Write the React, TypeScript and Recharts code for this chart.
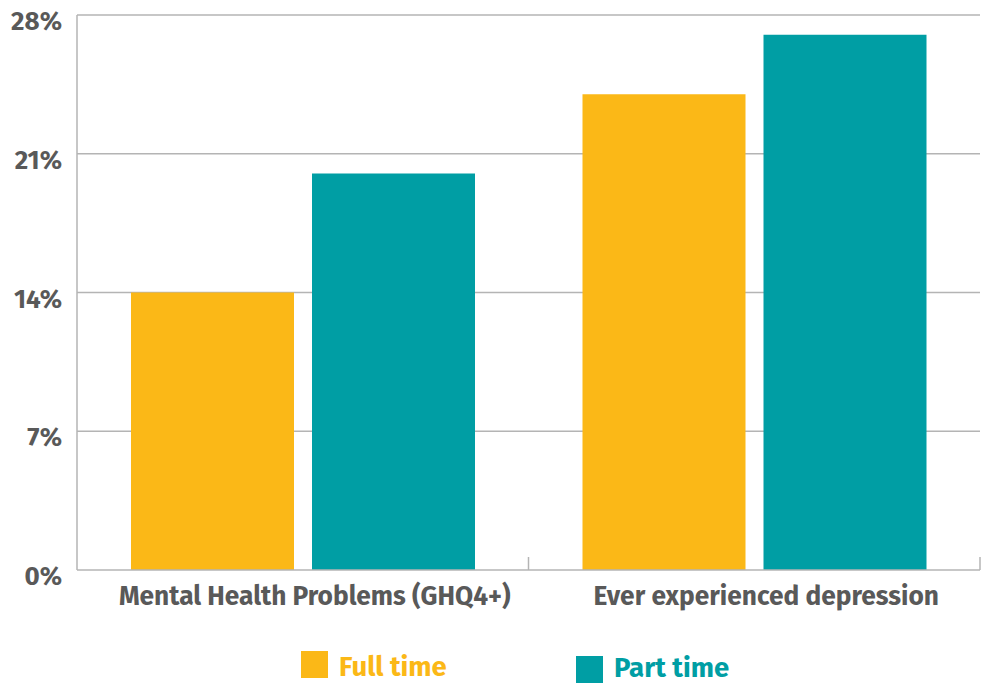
import React from "react";
import { BarChart, Bar, XAxis, YAxis, CartesianGrid } from "recharts";

const categories = ["Mental Health Problems (GHQ4+)", "Ever experienced depression"];
const fullTime = [14, 24];
const partTime = [20, 27];
const yTicks = [0, 7, 14, 21, 28];

const seriesNames = ["Full time", "Part time"];
const seriesColors = ["#FBB817", "#009EA4"];

const data = categories.map((c, i) => ({ name: c, full: fullTime[i], part: partTime[i] }));

const FONT = "'Fira Sans', 'Open Sans', sans-serif";
const GRID = "#B4B4B4";
const TEXT = "#595959";

const XTick = (props: any) => {
  const { x, y, payload } = props;
  const off = payload.offset || 0;
  return (
    <g>
      <line x1={x + off} x2={x + off} y1={y} y2={y - 13} stroke={GRID} strokeWidth={1.5} />
      <text x={x + 12} y={y + 35} textAnchor="middle" fill={TEXT} fontFamily={FONT} fontWeight={700} fontSize={26.3}>
        {payload.value}
      </text>
    </g>
  );
};

const YTick = (props: any) => {
  const { x, y, payload } = props;
  return (
    <text x={x} y={y + 15} textAnchor="end" fill={TEXT} fontFamily={FONT} fontWeight={700} fontSize={26}>
      {payload.value}%
    </text>
  );
};

export default function App() {
  return (
    <div style={{ position: "absolute", left: 0, top: 0, width: 981, height: 683, background: "#fff" }}>
      <BarChart
        width={981}
        height={683}
        data={data}
        margin={{ top: 15, right: 1, left: 0, bottom: 0 }}
        barCategoryGap={54}
        barGap={18}
      >
        <CartesianGrid vertical={false} stroke={GRID} strokeWidth={1.5} horizontalValues={[7, 14, 21, 28]} />
        <XAxis
          dataKey="name"
          height={113}
          tickSize={0}
          tickMargin={0}
          tickLine={false}
          axisLine={{ stroke: GRID, strokeWidth: 1.5 }}
          tick={<XTick />}
          interval={0}
        />
        <YAxis
          width={77}
          domain={[0, 28]}
          ticks={yTicks}
          tickLine={false}
          tickSize={0}
          tickMargin={15}
          axisLine={{ stroke: GRID, strokeWidth: 1.5 }}
          tick={<YTick />}
        />
        <Bar dataKey="full" fill={seriesColors[0]} isAnimationActive={false} />
        <Bar dataKey="part" fill={seriesColors[1]} isAnimationActive={false} />
      </BarChart>
      <svg style={{ position: "absolute", left: 0, top: 0 }} width={981} height={683}>
        <rect x={301} y={651} width={27} height={27} fill={seriesColors[0]} />
        <text x={339} y={676} fill={seriesColors[0]} fontFamily={FONT} fontWeight={700} fontSize={27.5}>
          {seriesNames[0]}
        </text>
        <rect x={576} y={656} width={27} height={27} fill={seriesColors[1]} />
        <text x={614} y={677} fill={seriesColors[1]} fontFamily={FONT} fontWeight={700} fontSize={27.5}>
          {seriesNames[1]}
        </text>
      </svg>
    </div>
  );
}
